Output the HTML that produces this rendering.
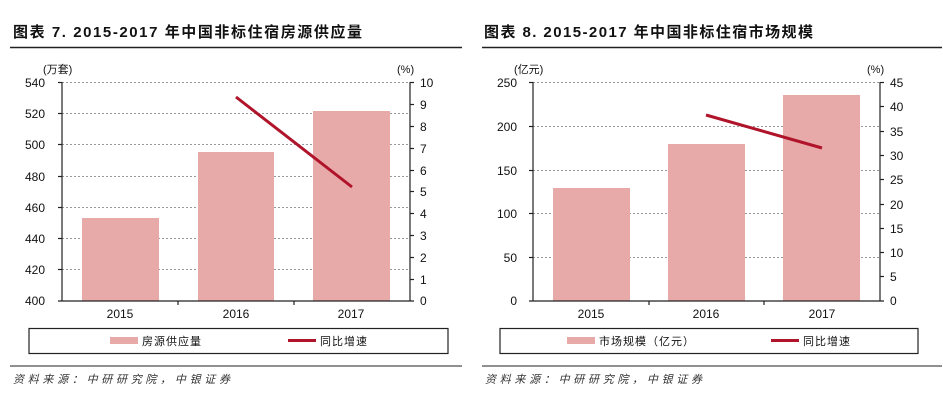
<!DOCTYPE html>
<html><head><meta charset="utf-8"><style>
html,body{margin:0;padding:0;background:#fff;}
svg{display:block;font-family:"Liberation Sans","Noto Sans CJK SC",sans-serif;}
</style></head><body>
<svg width="943" height="406" viewBox="0 0 943 406" xmlns="http://www.w3.org/2000/svg">
<!-- LEFT CHART -->
<text x="13" y="37" font-size="15" font-weight="bold" fill="#111" textLength="349" lengthAdjust="spacing">图表 7. 2015-2017 年中国非标住宿房源供应量</text>
<line x1="10" y1="47.5" x2="462" y2="47.5" stroke="#222" stroke-width="1.5"/>
<g stroke="#999" stroke-dasharray="2,2" stroke-width="1">
<line x1="62" y1="82.5" x2="410" y2="82.5"/><line x1="62" y1="113.5" x2="410" y2="113.5"/><line x1="62" y1="144.5" x2="410" y2="144.5"/><line x1="62" y1="176.5" x2="410" y2="176.5"/><line x1="62" y1="207.5" x2="410" y2="207.5"/><line x1="62" y1="238.5" x2="410" y2="238.5"/><line x1="62" y1="269.5" x2="410" y2="269.5"/>
</g>
<g fill="#e8aaa9">
<rect x="82" y="218" width="77" height="83"/><rect x="198" y="152" width="76" height="149"/><rect x="313" y="111" width="77" height="190"/>
</g>
<line x1="236" y1="97" x2="352" y2="187" stroke="#b0142a" stroke-width="3"/>
<g stroke="#222" stroke-width="1.2">
<line x1="62" y1="82" x2="62" y2="301"/><line x1="410" y1="82" x2="410" y2="301"/><line x1="58" y1="301" x2="414" y2="301"/>
<line x1="58" y1="82.5" x2="62" y2="82.5"/><line x1="58" y1="113.5" x2="62" y2="113.5"/><line x1="58" y1="144.5" x2="62" y2="144.5"/><line x1="58" y1="176.5" x2="62" y2="176.5"/><line x1="58" y1="207.5" x2="62" y2="207.5"/><line x1="58" y1="238.5" x2="62" y2="238.5"/><line x1="58" y1="269.5" x2="62" y2="269.5"/>
<line x1="178" y1="301" x2="178" y2="305"/><line x1="294" y1="301" x2="294" y2="305"/>
</g>
<g stroke="#222" stroke-width="1.2">
<line x1="410" y1="82.5" x2="414" y2="82.5"/><line x1="410" y1="104.5" x2="414" y2="104.5"/><line x1="410" y1="126.5" x2="414" y2="126.5"/><line x1="410" y1="148.5" x2="414" y2="148.5"/><line x1="410" y1="170.5" x2="414" y2="170.5"/><line x1="410" y1="191.5" x2="414" y2="191.5"/><line x1="410" y1="213.5" x2="414" y2="213.5"/><line x1="410" y1="235.5" x2="414" y2="235.5"/><line x1="410" y1="257.5" x2="414" y2="257.5"/><line x1="410" y1="279.5" x2="414" y2="279.5"/>
</g>
<g font-size="12" fill="#111" text-anchor="end">
<text x="45" y="87">540</text><text x="45" y="118">520</text><text x="45" y="149">500</text><text x="45" y="181">480</text><text x="45" y="212">460</text><text x="45" y="243">440</text><text x="45" y="274">420</text><text x="45" y="305">400</text>
</g>
<g font-size="12" fill="#111" text-anchor="start">
<text x="420" y="87">10</text><text x="420" y="109">9</text><text x="420" y="131">8</text><text x="420" y="153">7</text><text x="420" y="175">6</text><text x="420" y="196">5</text><text x="420" y="218">4</text><text x="420" y="240">3</text><text x="420" y="262">2</text><text x="420" y="284">1</text><text x="420" y="305">0</text>
</g>
<text x="43" y="73" font-size="11" fill="#111">(万套)</text>
<text x="397" y="73" font-size="11" fill="#111">(%)</text>
<g font-size="12" fill="#111" text-anchor="middle"><text x="120" y="318">2015</text><text x="236" y="318">2016</text><text x="351" y="318">2017</text></g>
<rect x="29" y="328.5" width="419" height="25" fill="none" stroke="#222" stroke-width="1.2"/>
<rect x="110" y="337" width="28" height="7" fill="#e8aaa9"/>
<text x="142" y="345" font-size="11" fill="#111" letter-spacing="1">房源供应量</text>
<line x1="288" y1="340.5" x2="316" y2="340.5" stroke="#b0142a" stroke-width="3"/>
<text x="320" y="345" font-size="11" fill="#111" letter-spacing="1">同比增速</text>
<line x1="10" y1="366" x2="462" y2="366" stroke="#222" stroke-width="1"/>
<text x="13" y="383" font-size="11" font-style="italic" fill="#333" textLength="217" lengthAdjust="spacing">资料来源：中研研究院，中银证券</text>

<!-- RIGHT CHART -->
<text x="484" y="37" font-size="15" font-weight="bold" fill="#111" textLength="329" lengthAdjust="spacing">图表 8. 2015-2017 年中国非标住宿市场规模</text>
<line x1="482" y1="47.5" x2="942" y2="47.5" stroke="#222" stroke-width="1.5"/>
<g stroke="#999" stroke-dasharray="2,2" stroke-width="1">
<line x1="533" y1="82.5" x2="880" y2="82.5"/><line x1="533" y1="126.5" x2="880" y2="126.5"/><line x1="533" y1="170.5" x2="880" y2="170.5"/><line x1="533" y1="213.5" x2="880" y2="213.5"/><line x1="533" y1="257.5" x2="880" y2="257.5"/>
</g>
<g fill="#e8aaa9">
<rect x="553" y="188" width="77" height="113"/><rect x="668" y="144" width="77" height="157"/><rect x="783" y="95" width="77" height="206"/>
</g>
<line x1="706" y1="115" x2="822" y2="148" stroke="#b0142a" stroke-width="3"/>
<g stroke="#222" stroke-width="1.2">
<line x1="533" y1="82" x2="533" y2="301"/><line x1="880" y1="82" x2="880" y2="301"/><line x1="529" y1="301" x2="884" y2="301"/>
<line x1="529" y1="82.5" x2="533" y2="82.5"/><line x1="529" y1="126.5" x2="533" y2="126.5"/><line x1="529" y1="170.5" x2="533" y2="170.5"/><line x1="529" y1="213.5" x2="533" y2="213.5"/><line x1="529" y1="257.5" x2="533" y2="257.5"/>
<line x1="649" y1="301" x2="649" y2="305"/><line x1="764" y1="301" x2="764" y2="305"/>
<line x1="880" y1="82.5" x2="884" y2="82.5"/><line x1="880" y1="106.5" x2="884" y2="106.5"/><line x1="880" y1="131.5" x2="884" y2="131.5"/><line x1="880" y1="155.5" x2="884" y2="155.5"/><line x1="880" y1="179.5" x2="884" y2="179.5"/><line x1="880" y1="204.5" x2="884" y2="204.5"/><line x1="880" y1="228.5" x2="884" y2="228.5"/><line x1="880" y1="252.5" x2="884" y2="252.5"/><line x1="880" y1="276.5" x2="884" y2="276.5"/>
</g>
<g font-size="12" fill="#111" text-anchor="end">
<text x="517" y="87">250</text><text x="517" y="131">200</text><text x="517" y="175">150</text><text x="517" y="218">100</text><text x="517" y="262">50</text><text x="517" y="305">0</text>
</g>
<g font-size="12" fill="#111" text-anchor="start">
<text x="890" y="87">45</text><text x="890" y="111">40</text><text x="890" y="136">35</text><text x="890" y="160">30</text><text x="890" y="184">25</text><text x="890" y="209">20</text><text x="890" y="233">15</text><text x="890" y="257">10</text><text x="890" y="281">5</text><text x="890" y="305">0</text>
</g>
<text x="514" y="73" font-size="11" fill="#111">(亿元)</text>
<text x="867" y="73" font-size="11" fill="#111">(%)</text>
<g font-size="12" fill="#111" text-anchor="middle"><text x="591" y="318">2015</text><text x="706" y="318">2016</text><text x="822" y="318">2017</text></g>
<rect x="500" y="328.5" width="418" height="25" fill="none" stroke="#222" stroke-width="1.2"/>
<rect x="567" y="337" width="28" height="7" fill="#e8aaa9"/>
<text x="599" y="345" font-size="11" fill="#111" letter-spacing="1">市场规模（亿元）</text>
<line x1="771" y1="340.5" x2="799" y2="340.5" stroke="#b0142a" stroke-width="3"/>
<text x="803" y="345" font-size="11" fill="#111" letter-spacing="1">同比增速</text>
<line x1="482" y1="366" x2="942" y2="366" stroke="#222" stroke-width="1"/>
<text x="485" y="383" font-size="11" font-style="italic" fill="#333" textLength="217" lengthAdjust="spacing">资料来源：中研研究院，中银证券</text>
</svg>
</body></html>
